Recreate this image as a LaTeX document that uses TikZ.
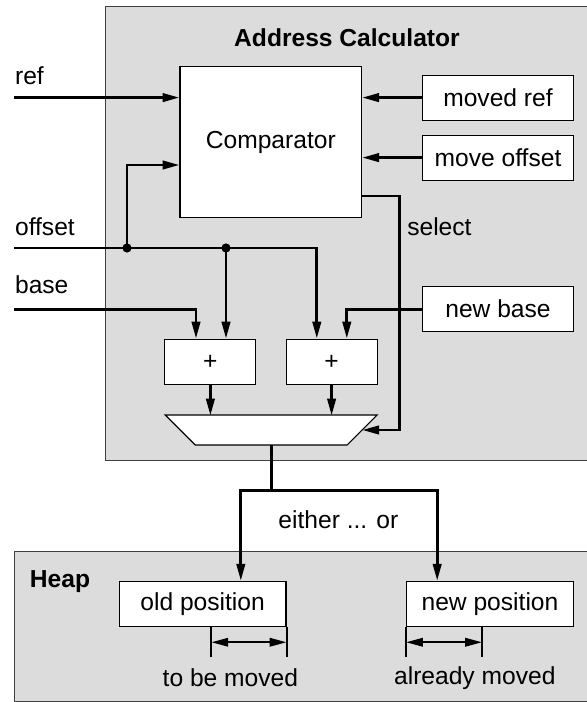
\documentclass[tikz,border=0pt]{standalone}
\usepackage{fontspec}
\setmainfont{Liberation Sans}
\usetikzlibrary{arrows.meta,positioning,shapes.geometric}
\definecolor{panelgray}{RGB}{220,220,220}

\begin{document}
\begin{tikzpicture}[
  font=\fontsize{17.5}{21}\selectfont,
  panel/.style={draw=black!75, line width=0.7pt, fill=panelgray},
  unit/.style={rectangle, draw, line width=0.8pt, fill=white, inner sep=0pt},
  wire/.style={line width=1.9pt},
  sig/.style={wire, -{Triangle[length=12pt,width=6pt]}},
  span/.style={line width=1.4pt, {Triangle[length=12pt,width=6pt]}-{Triangle[length=12pt,width=6pt]}},
  junction/.style={circle, fill, inner sep=0pt, minimum size=0.23cm},
  lbl/.style={inner sep=0pt},
]
  \useasboundingbox (0,0) rectangle (14.675,17.55);
  % the two grey areas
  \draw[panel] (2.625,6.04) rectangle (15,17.38);
  \draw[panel] (0.35,0.025) rectangle (15,3.775);
  \node[font=\fontsize{17.5}{21}\selectfont\bfseries] (title) at (8.675,16.6) {Address Calculator};
  \node[font=\fontsize{17.5}{21}\selectfont\bfseries] (heap) at (1.5,3.0) {Heap};

  \node[unit, minimum width=4.54cm, minimum height=3.775cm] (cmp) at (6.77,13.99) {Comparator};
  \node[unit, minimum width=3.76cm, minimum height=1.125cm] (mref) at (12.45,15.11) {moved ref};
  \node[unit, minimum width=3.76cm, minimum height=1.125cm] (moff) at (12.45,13.61) {move offset};
  \node[unit, minimum width=3.76cm, minimum height=1.125cm] (nbase) at (12.45,9.82) {new base};
  \node[unit, minimum width=2.275cm, minimum height=1.145cm] (addl) at (5.26,8.5) {+};
  \node[unit, minimum width=2.275cm, minimum height=1.145cm] (addr) at (8.29,8.5) {+};
  % selector
  \coordinate (mux) at (6.78,6.8);
  \draw[line width=0.8pt, fill=white] ([shift={(-2.65,0.375)}]mux) -- ++(5.3,0)
    -- ++(-0.75,-0.75) coordinate (muxbr) -- ++(-3.8,0) -- cycle;
  \coordinate (muxsel) at ([shift={(2.275,0)}]mux);
  \coordinate (muxout) at ([yshift=-0.375cm]mux);

  \node[unit, minimum width=4.17cm, minimum height=1.135cm] (oldpos) at (5.065,2.45) {old position};
  \node[unit, minimum width=4.17cm, minimum height=1.135cm] (newpos) at (12.25,2.45) {new position};

  % inputs from outside
  \coordinate (refin) at (0.35,15.11);
  \coordinate (offin) at (0.35,11.35);
  \coordinate (basein) at (0.35,9.82);
  \node[lbl, anchor=west] (reflbl) at (0.37,15.65) {ref};
  \node[lbl, anchor=west] (offlbl) at (0.37,11.88) {offset};
  \node[lbl, anchor=west] (baselbl) at (0.37,10.43) {base};
  \node[junction] (dot1) at (3.175,11.35) {};
  \node[junction] (dot2) at (5.65,11.35) {};

  \draw[sig] (refin) -- (refin -| cmp.west);
  \draw[sig] (mref.west) -- (mref.west -| cmp.east);
  \draw[sig] (moff.west) -- (moff.west -| cmp.east);
  \draw[sig] (offin) -| ([xshift=-0.37cm]addr.north);
  \draw[sig] (dot1.center) |- ([yshift=-0.565cm]cmp.west);
  \draw[sig] (dot2.center) -- (dot2.center |- addl.north);
  \draw[sig] (basein) -| ([xshift=-0.36cm]addl.north);
  \draw[sig] (nbase.west) -| ([xshift=0.38cm]addr.north);
  \draw[sig] (addl.south) -- ++(0,-0.75);
  \draw[sig] (addr.south) -- ++(0,-0.75);
  \draw[sig] ([yshift=-1.34cm]cmp.east) -- ++(0.935,0) |- (muxsel);
  \node[lbl, anchor=west] (sellbl) at (10.175,11.875) {select};

  % result goes to one of two places
  \draw[wire] (muxout) -- ++(0,-1.145) coordinate (split);
  \draw[sig] (split) -| ([xshift=0.955cm]oldpos.north);
  \draw[sig] (split) -| ([xshift=-1.32cm]newpos.north);
  \node (either) at (8.46,4.55) {either ... or};

  \draw[line width=1.4pt] (oldpos.south east) -- ++(0,-0.75);
  \draw[line width=1.4pt] ([xshift=-1.88cm]oldpos.south east) -- ++(0,-0.75);
  \draw[span] ([xshift=-1.88cm,yshift=-0.375cm]oldpos.south east) -- ([yshift=-0.375cm]oldpos.south east);
  \draw[line width=1.4pt] (newpos.south west) -- ++(0,-0.75);
  \draw[line width=1.4pt] ([xshift=1.9cm]newpos.south west) -- ++(0,-0.75);
  \draw[span] ([yshift=-0.375cm]newpos.south west) -- ([xshift=1.9cm,yshift=-0.375cm]newpos.south west);
  \node (tbm) at (5.76,0.6) {to be moved};
  \node (amv) at (11.87,0.6) {already moved};
\end{tikzpicture}
\end{document}
